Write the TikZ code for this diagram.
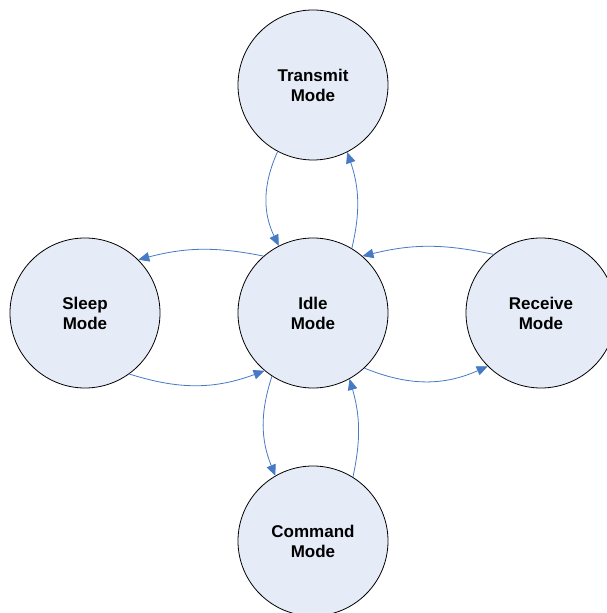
\documentclass[tikz,border=0pt]{standalone}
\usepackage{fontspec}
\setmainfont{Liberation Sans}
\usetikzlibrary{arrows.meta}

\definecolor{statefill}{RGB}{230,236,247}
\definecolor{linkblue}{RGB}{70,122,196}

\begin{document}
\begin{tikzpicture}[x=1pt,y=1pt,
  state/.style={circle, draw=black, line width=0.8pt, fill=statefill,
    minimum size=150pt, inner sep=0pt, align=center,
    font=\fontsize{17}{20}\selectfont\bfseries},
  link/.style={draw=linkblue, line width=0.8pt,
    -{Triangle[length=11pt,width=9.5pt]}}]
  \useasboundingbox (0,0) rectangle (607,613);

  % states
  \node[state] (idle)     at (313,300) {Idle\\Mode};
  \node[state] (transmit) at (313,528) {Transmit\\Mode};
  \node[state] (sleep)    at (85,300)  {Sleep\\Mode};
  \node[state] (receive)  at (541,300) {Receive\\Mode};
  \node[state] (command)  at (313,72)  {Command\\Mode};

  % transitions between Idle and Transmit
  \draw[link] (transmit.-118) to[bend right=25] (idle.117);
  \draw[link] (idle.59) to[bend right=16] (transmit.-63);

  % transitions between Idle and Sleep
  \draw[link] (idle.131) to[bend right=13] (sleep.45);
  \draw[link] (sleep.-54) to[bend right=19] (idle.-130);

  % transitions between Idle and Receive
  \draw[link] (receive.129) to[bend right=13] (idle.49);
  \draw[link] (idle.-47) to[bend right=23] (receive.-135);

  % transitions between Idle and Command
  \draw[link] (idle.-123) to[bend right=20] (command.120);
  \draw[link] (command.58) to[bend right=14] (idle.-61);
\end{tikzpicture}
\end{document}
